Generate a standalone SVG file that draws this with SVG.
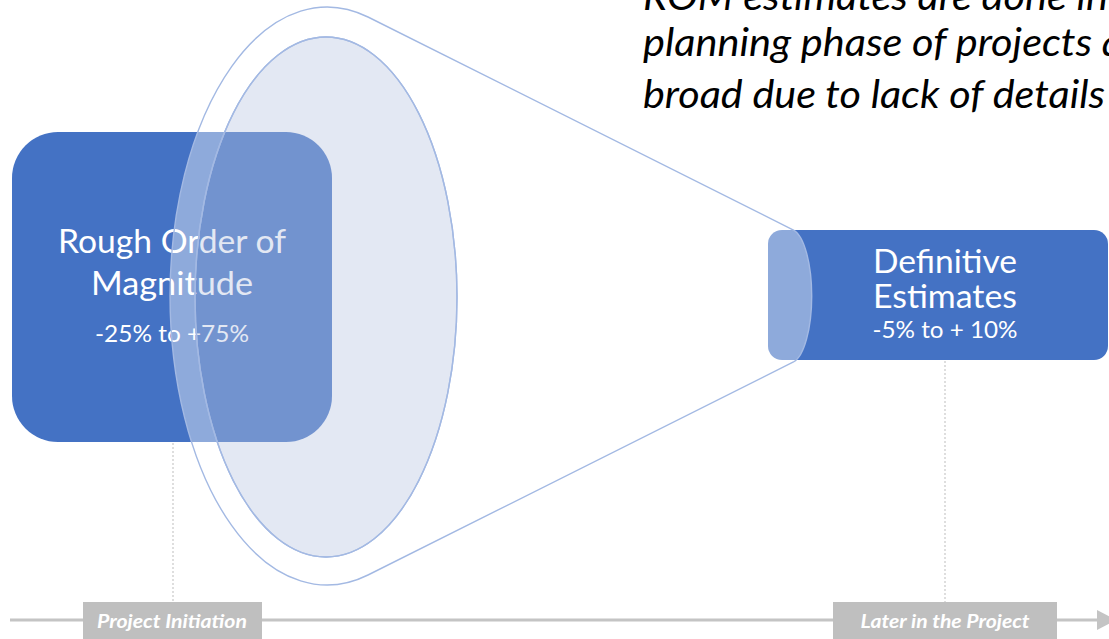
<svg xmlns="http://www.w3.org/2000/svg" width="1109" height="639" viewBox="0 0 1109 639">
  <style>
    .box { fill: #4472c4; }
    .title { font-family: Lato, "Liberation Sans", sans-serif; font-size: 33px; fill: #ffffff; text-anchor: middle; }
    .pct { font-family: Lato, "Liberation Sans", sans-serif; font-size: 24px; fill: #ffffff; text-anchor: middle; }
    .note { font-family: Lato, "Liberation Sans", sans-serif; font-size: 38px; font-style: italic; fill: #000000; }
    .tag { fill: #bfbfbf; }
    .tagtext { font-family: Lato, "Liberation Sans", sans-serif; font-size: 19px; font-style: italic; font-weight: bold; fill: #ffffff; text-anchor: middle; }
    .dots { stroke: #d4d4d4; stroke-width: 1.5; stroke-dasharray: 2 2; fill: none; }
    .axis { stroke: #c4c4c4; stroke-width: 3; fill: none; }
    .funnel { fill: #ffffff; fill-opacity: 0.4; fill-rule: evenodd; stroke: #a3b9e3; stroke-width: 1.4; }
    .inner { fill: rgb(186,197,225); fill-opacity: 0.4; stroke: #a3b9e3; stroke-width: 1.4; }
  </style>

  <g id="connectors">
    <line class="axis" x1="10" y1="620" x2="1098" y2="620"/>
    <polygon points="1097,610 1116,620 1097,630" fill="#c4c4c4"/>
    <line class="dots" x1="173" y1="443" x2="173" y2="602"/>
    <line class="dots" x1="945" y1="361" x2="945" y2="602"/>
  </g>

  <g id="node-rom">
    <rect class="box" x="12" y="132" width="320" height="310" rx="46" ry="46"/>
    <text class="title" x="172" y="253" textLength="228" lengthAdjust="spacingAndGlyphs">Rough Order of</text>
    <text class="title" x="172" y="295" textLength="162" lengthAdjust="spacingAndGlyphs">Magnitude</text>
    <text class="pct" x="172" y="342" textLength="154" lengthAdjust="spacingAndGlyphs">-25% to +75%</text>
  </g>

  <g id="node-definitive">
    <rect class="box" x="768" y="230" width="340" height="130" rx="14" ry="14"/>
    <text class="title" x="945" y="273" textLength="144" lengthAdjust="spacingAndGlyphs">Definitive</text>
    <text class="title" x="945" y="308" textLength="144" lengthAdjust="spacingAndGlyphs">Estimates</text>
    <text class="pct" x="945" y="338" textLength="145" lengthAdjust="spacingAndGlyphs">-5% to + 10%</text>
  </g>

  <g id="funnel">
    <path class="funnel" d="M 368 17 L 793.5 230 A 22 67 0 0 1 793.5 362 L 368 575 A 157 289 0 1 1 368 17 Z M 195 297 A 131 260 0 1 0 457 297 A 131 260 0 1 0 195 297 Z"/>
    <ellipse class="inner" cx="326" cy="297" rx="131" ry="260"/>
  </g>

  <g id="note">
    <text class="note" x="643" y="10" textLength="465" lengthAdjust="spacingAndGlyphs">ROM estimates are done in</text>
    <text class="note" x="643" y="56" textLength="480" lengthAdjust="spacingAndGlyphs">planning phase of projects a</text>
    <text class="note" x="643" y="108" textLength="462" lengthAdjust="spacingAndGlyphs">broad due to lack of details</text>
  </g>

  <g id="label-initiation">
    <rect class="tag" x="83" y="602" width="179" height="45"/>
    <text class="tagtext" x="172" y="628" textLength="150" lengthAdjust="spacingAndGlyphs">Project Initiation</text>
  </g>

  <g id="label-later">
    <rect class="tag" x="833" y="602" width="224" height="45"/>
    <text class="tagtext" x="945" y="628" textLength="169" lengthAdjust="spacingAndGlyphs">Later in the Project</text>
  </g>
</svg>
